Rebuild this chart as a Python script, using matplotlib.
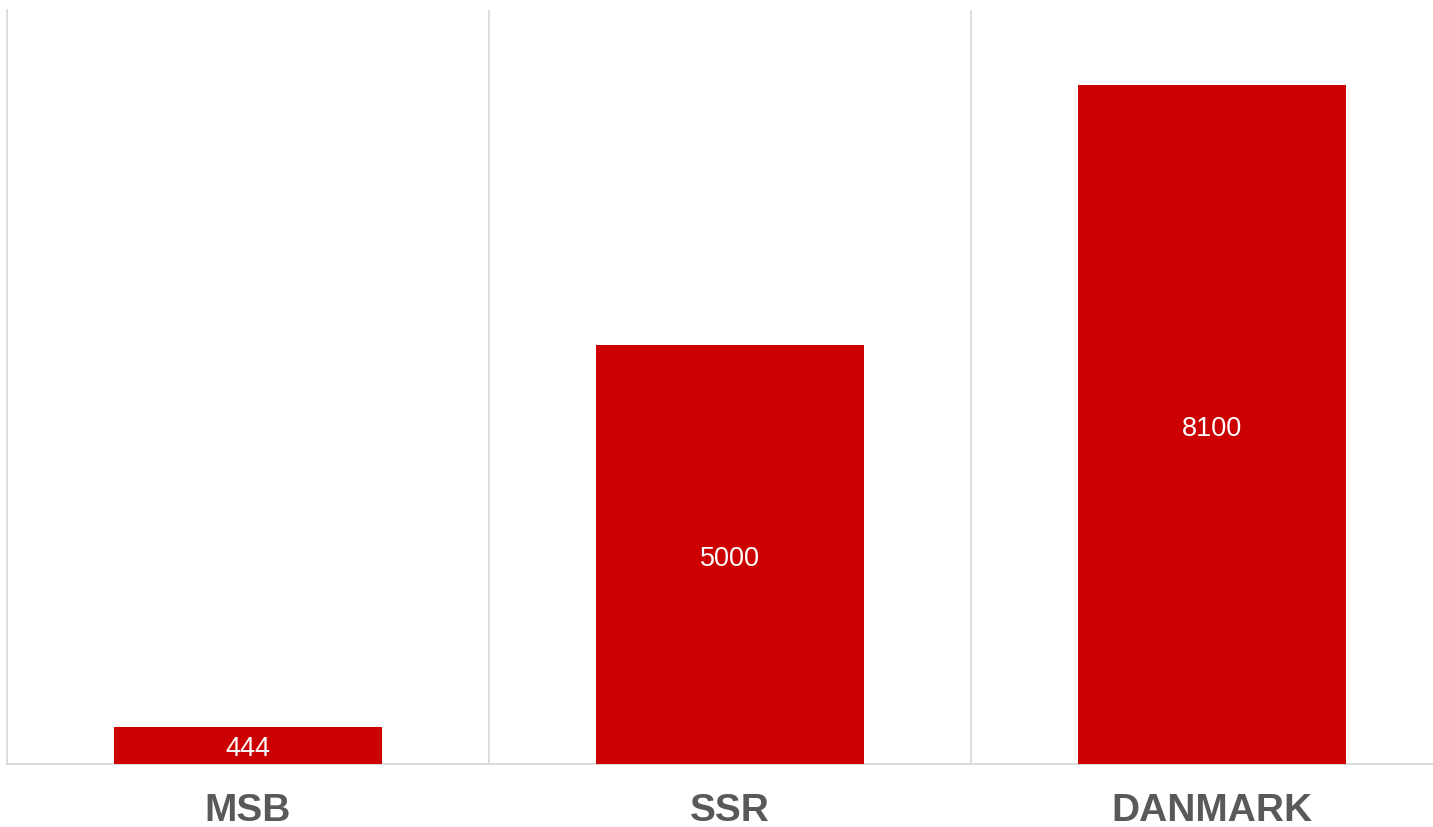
import numpy as np
import matplotlib
matplotlib.use('Agg')
import matplotlib.pyplot as plt

# Datos del grafico
categorias = ['MSB', 'SSR', 'DANMARK']
valores = [444, 5000, 8100]

plt.rcParams['font.family'] = ['Liberation Sans', 'DejaVu Sans']

fig = plt.figure(figsize=(14.33, 8.28), dpi=100)
ax = fig.add_axes([7 / 1433, 63 / 828, 1 - 7 / 1433, (765 - 11) / 828])

x = np.arange(len(categorias))
bars = ax.bar(x, valores, width=0.558, color='#cc0000', zorder=3)

# El grafico original queda recortado un poco a la derecha
ax.set_xlim(-0.5, -0.5 + 1426 / 482)
ax.set_ylim(0, 9000)

# Lineas verticales entre categorias
ax.set_xticks(x)
ax.set_xticklabels(categorias, fontsize=28, fontweight='bold', color='#595959')
ax.set_xticks(x[:-1] + 0.5, minor=True)
ax.grid(True, which='minor', axis='x', color='#d9d9d9', linewidth=1.3)
ax.tick_params(axis='x', which='both', length=0, pad=20)
ax.set_yticks([])

for s in ['top', 'right']:
    ax.spines[s].set_visible(False)
for s in ['left', 'bottom']:
    ax.spines[s].set_color('#d9d9d9')
    ax.spines[s].set_linewidth(1.3)

# Etiquetas de valor en el centro de las barras
for bar in bars:
    h = bar.get_height()
    ax.text(bar.get_x() + bar.get_width() / 2, h / 2, f'{h:.0f}',
            ha='center', va='center_baseline', color='white', fontsize=19.5, zorder=4)

plt.savefig('out.png', dpi=100)
plt.close()
